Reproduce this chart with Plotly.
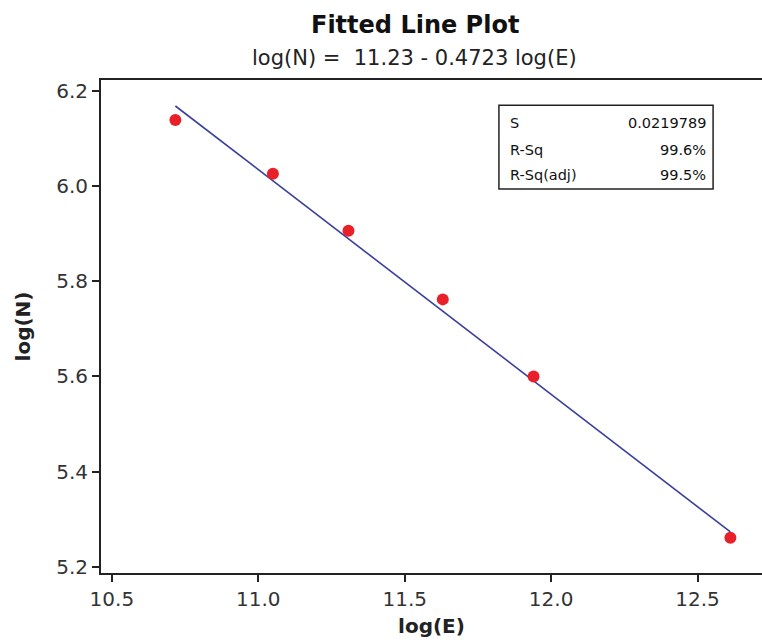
import plotly.graph_objects as go

# Data
log_E = [10.717, 11.050, 11.308, 11.630, 11.940, 12.612]
log_N = [6.139, 6.026, 5.906, 5.762, 5.600, 5.261]
intercept = 11.23
slope = -0.4723
x_ticks = [10.5, 11.0, 11.5, 12.0, 12.5]
y_ticks = [5.2, 5.4, 5.6, 5.8, 6.0, 6.2]
stat_names = ["S", "R-Sq", "R-Sq(adj)"]
stat_values = ["0.0219789", "99.6%", "99.5%"]

fit_x = [min(log_E), max(log_E)]
fit_y = [intercept + slope * v for v in fit_x]

FONT = "DejaVu Sans"
fig = go.Figure()
fig.add_trace(go.Scatter(x=fit_x, y=fit_y, mode="lines",
                         line=dict(color="#3b3f9c", width=1.6), hoverinfo="skip"))
fig.add_trace(go.Scatter(x=log_E, y=log_N, mode="markers",
                         marker=dict(color="#e8202a", size=12)))

fig.update_layout(
    width=762, height=643,
    margin=dict(l=101, r=0, t=80, b=70),
    paper_bgcolor="white", plot_bgcolor="white",
    showlegend=False,
    font=dict(family=FONT, color="#222"),
    xaxis=dict(range=[10.463, 12.72], tickvals=x_ticks,
               ticktext=[f"{v:.1f}" for v in x_ticks],
               showgrid=False, zeroline=False, showline=True, linecolor="#222",
               linewidth=2, mirror=True, ticks="outside", ticklen=7, tickwidth=1.5,
               tickcolor="#222", tickfont=dict(size=20, family=FONT, color="#333"),
               title=dict(text="<b>log(E)</b>", font=dict(size=20, family=FONT, color="#222"),
                          standoff=9)),
    yaxis=dict(range=[5.187, 6.223], tickvals=y_ticks,
               ticktext=[f"{v:.1f}" for v in y_ticks],
               showgrid=False, zeroline=False, showline=True, linecolor="#222",
               linewidth=2, mirror=False, ticks="outside", ticklen=7, tickwidth=1.5,
               tickcolor="#222", tickfont=dict(size=20, family=FONT, color="#333"),
               title=dict(text="<b>log(N)</b>", font=dict(size=20, family=FONT, color="#222"),
                          standoff=20)),
)

# Titles
fig.add_annotation(text="<b>Fitted Line Plot</b>", xref="paper", yref="paper",
                   x=0.475, y=1.111, showarrow=False, yanchor="middle",
                   font=dict(size=24, family=FONT, color="#111"))
fig.add_annotation(text=f"log(N) =  {intercept:.2f} - {abs(slope):.4f} log(E)",
                   xref="paper", yref="paper", x=0.475, y=1.045, showarrow=False,
                   yanchor="middle", font=dict(size=21, family=FONT, color="#222"))

# Stats box
fig.add_shape(type="rect", xref="paper", yref="paper",
              x0=0.602, x1=0.926, y0=0.779, y1=0.949,
              line=dict(color="#222", width=1.5), fillcolor="white")
row_y = [0.913, 0.858, 0.807]
for name, val, yy in zip(stat_names, stat_values, row_y):
    fig.add_annotation(text=name, xref="paper", yref="paper", x=0.616, y=yy,
                       xanchor="left", yanchor="middle", showarrow=False,
                       font=dict(size=14.5, family=FONT, color="#111"))
    fig.add_annotation(text=val, xref="paper", yref="paper", x=0.918, y=yy,
                       xanchor="right", yanchor="middle", showarrow=False,
                       font=dict(size=14.5, family=FONT, color="#111"))

fig.write_html("out.html")
